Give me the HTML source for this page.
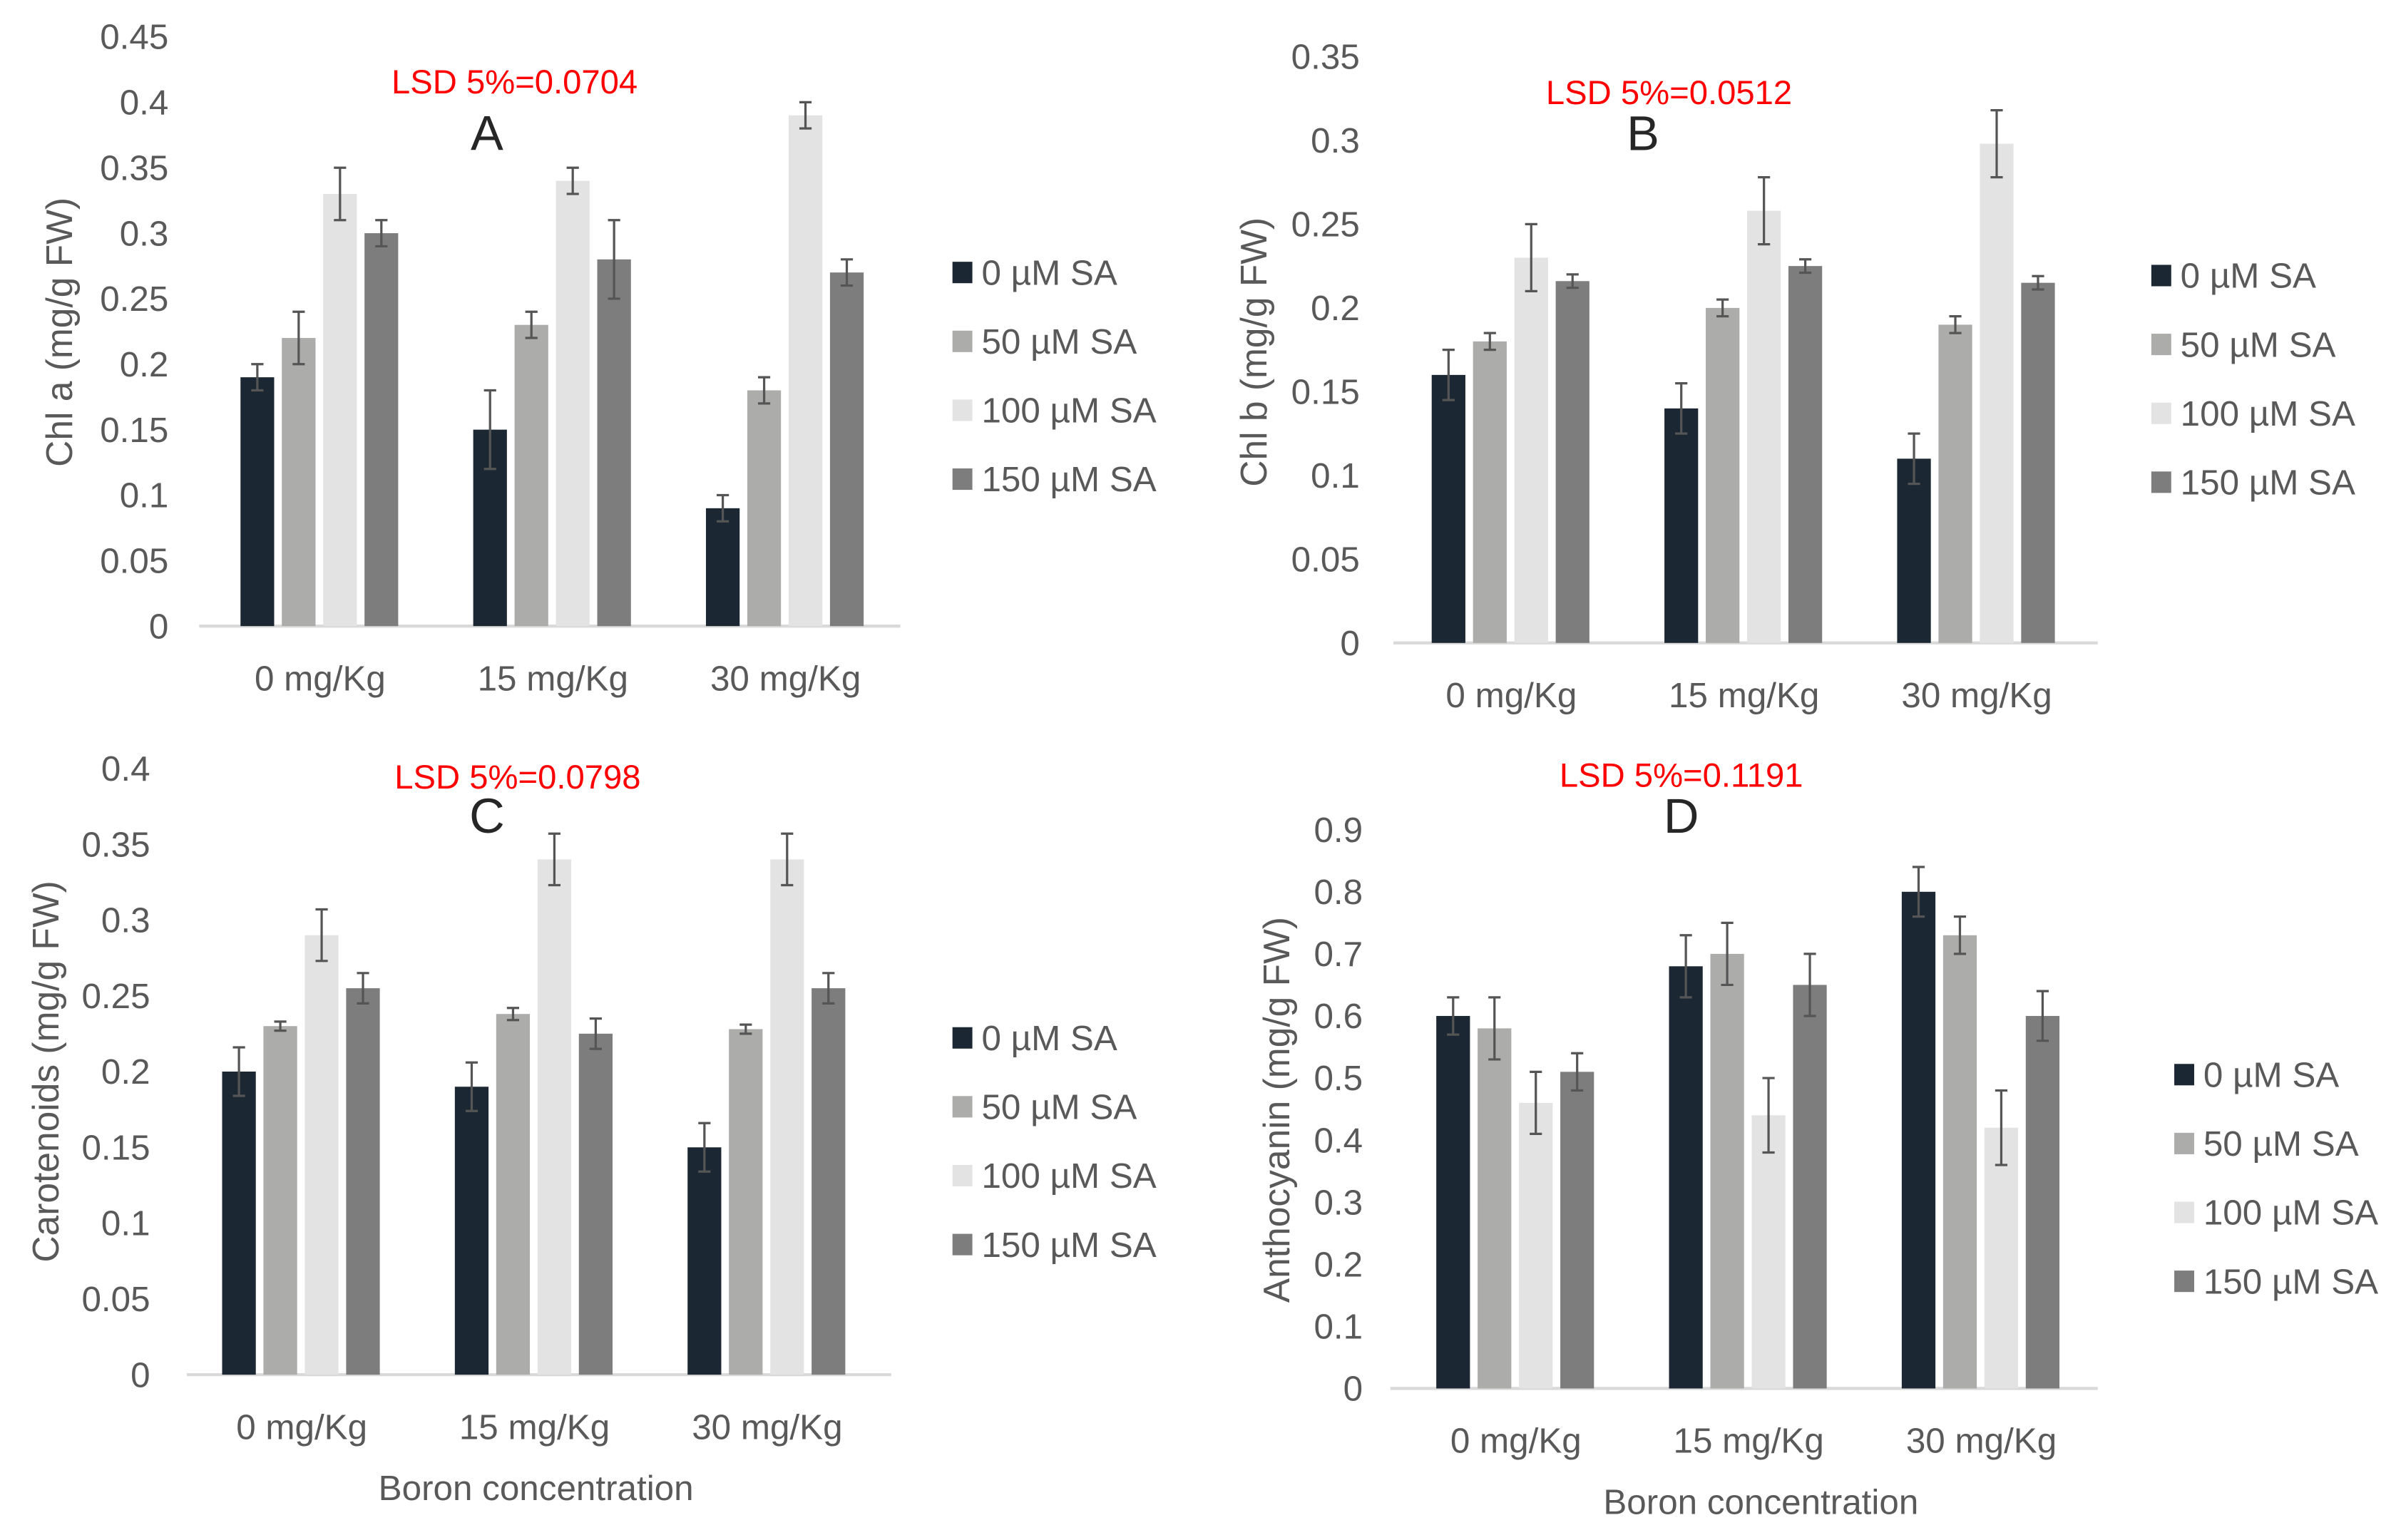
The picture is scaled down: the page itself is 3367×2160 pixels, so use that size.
<!DOCTYPE html>
<html><head><meta charset="utf-8"><style>
html,body{margin:0;padding:0;background:#fff}
svg{display:block}
text{font-family:"Liberation Sans",sans-serif}
</style></head><body>
<svg id="fig" width="3367" height="2160" viewBox="0 0 1568 1006" xmlns="http://www.w3.org/2000/svg"></svg>
<script>
const categories = ["0 mg/Kg","15 mg/Kg","30 mg/Kg"];
const seriesNames = ["0 µM SA","50 µM SA","100 µM SA","150 µM SA"];
const colors = ["#1b2733","#acacab","#e3e3e3","#7d7d7d"];

const aVals = [[0.19,0.15,0.09],[0.22,0.23,0.18],[0.33,0.34,0.39],[0.30,0.28,0.27]];
const aErr  = [[0.01,0.03,0.01],[0.02,0.01,0.01],[0.02,0.01,0.01],[0.01,0.03,0.01]];
const aTicks = ["0","0.05","0.1","0.15","0.2","0.25","0.3","0.35","0.4","0.45"];

const bVals = [[0.16,0.14,0.11],[0.18,0.20,0.19],[0.23,0.258,0.298],[0.216,0.225,0.215]];
const bErr  = [[0.015,0.015,0.015],[0.005,0.005,0.005],[0.02,0.02,0.02],[0.004,0.004,0.004]];
const bTicks = ["0","0.05","0.1","0.15","0.2","0.25","0.3","0.35"];

const cVals = [[0.20,0.19,0.15],[0.23,0.238,0.228],[0.29,0.34,0.34],[0.255,0.225,0.255]];
const cErr  = [[0.016,0.016,0.016],[0.003,0.004,0.003],[0.017,0.017,0.017],[0.01,0.01,0.01]];
const cTicks = ["0","0.05","0.1","0.15","0.2","0.25","0.3","0.35","0.4"];

const dVals = [[0.60,0.68,0.80],[0.58,0.70,0.73],[0.46,0.44,0.42],[0.51,0.65,0.60]];
const dErr  = [[0.03,0.05,0.04],[0.05,0.05,0.03],[0.05,0.06,0.06],[0.03,0.05,0.04]];
const dTicks = ["0","0.1","0.2","0.3","0.4","0.5","0.6","0.7","0.8","0.9"];

const NS="http://www.w3.org/2000/svg";
const svg=document.getElementById('fig');
function mk(tag,attrs,parent){const e=document.createElementNS(NS,tag);for(const k in attrs)e.setAttribute(k,attrs[k]);(parent||svg).appendChild(e);return e;}

function panel(cfg){
  const g=mk('g',{});
  
  
  const maxV=cfg.tickStep*(cfg.ticks.length-1);
  const y=v=>cfg.y0-(v/maxV)*(cfg.y0-cfg.yTop);
  cfg.ticks.forEach((t,i)=>{
    const tx=mk('text',{x:cfg.tickX,y:y(i*cfg.tickStep)+8,'text-anchor':'end','font-size':23,fill:'#595959'},g);
    tx.textContent=t;
    
    
  });
  const ax=mk('line',{x1:cfg.axX1,x2:cfg.axX2,y1:cfg.y0,y2:cfg.y0,stroke:'#d9d9d9','stroke-width':2},g);
  
  
  const xc=i=>cfg.gx0+i*152;
  categories.forEach((c,ci)=>{
    const tx=mk('text',{x:xc(ci),y:cfg.y0+42,'text-anchor':'middle','font-size':23,fill:'#595959'},g);
    tx.textContent=c;
    
    
    cfg.vals.forEach((sv,si)=>{
      const v=sv[ci],e=cfg.err[si][ci];
      const bx=xc(ci)-52+si*27;
      const r=mk('rect',{x:bx,y:y(v),width:22,height:cfg.y0-y(v),fill:colors[si]},g);
      
      
      const cx=bx+11;
      const el=mk('path',{d:`M${cx},${y(v+e)}V${y(v-e)}M${cx-4},${y(v+e)}H${cx+4}M${cx-4},${y(v-e)}H${cx+4}`,stroke:'#555',fill:'none','stroke-width':1.5},g);
      
      
    });
  });
  const yt=mk('text',{x:0,y:0,'text-anchor':'middle','font-size':24,fill:'#595959',transform:`translate(${cfg.ytX},${cfg.ytY}) rotate(-90)`},g);
  yt.textContent=cfg.yTitle;
  
  
  const lsd=mk('text',{x:cfg.lsdX,y:cfg.lsdY,'text-anchor':'middle','font-size':22,fill:'#ff0000'},g);
  lsd.textContent=cfg.lsd;
  
  
  const let_=mk('text',{x:cfg.letX,y:cfg.letY,'text-anchor':'middle','font-size':32,fill:'#262626'},g);
  let_.textContent=cfg.id;
  
  
  seriesNames.forEach((s,si)=>{
    const ly=cfg.legY+si*cfg.legStep;
    const sq=mk('rect',{x:cfg.legX,y:ly-7,width:13,height:14,fill:colors[si]},g);
    
    
    const lt=mk('text',{x:cfg.legX+19,y:ly+8,'font-size':23,fill:'#595959'},g);
    lt.textContent=s;
    
    
  });
  if(cfg.xTitle){
    const xt=mk('text',{x:cfg.xtX,y:cfg.xtY,'text-anchor':'middle','font-size':23,fill:'#595959'},g);
    xt.textContent='Boron concentration';
    
    
  }
}
panel({id:'A',vals:aVals,err:aErr,ticks:aTicks,tickStep:0.05,y0:409,yTop:24,tickX:110,axX1:130,axX2:588,gx0:209,
  yTitle:'Chl a (mg/g FW)',ytX:47,ytY:217,lsd:'LSD 5%=0.0704',lsdX:336,lsdY:61,letX:318,letY:98,legX:622,legY:178,legStep:45});
panel({id:'B',vals:bVals,err:bErr,ticks:bTicks,tickStep:0.05,y0:420,yTop:37,tickX:888,axX1:910,axX2:1370,gx0:987,
  yTitle:'Chl b (mg/g FW)',ytX:827,ytY:230,lsd:'LSD 5%=0.0512',lsdX:1090,lsdY:68,letX:1073,letY:98,legX:1405,legY:180,legStep:45});
panel({id:'C',vals:cVals,err:cErr,ticks:cTicks,tickStep:0.05,y0:898,yTop:502,tickX:98,axX1:122,axX2:582,gx0:197,
  yTitle:'Carotenoids (mg/g FW)',ytX:38,ytY:700,lsd:'LSD 5%=0.0798',lsdX:338,lsdY:515,letX:318,letY:544,legX:622,legY:678,legStep:45,
  xTitle:true,xtX:350,xtY:980});
panel({id:'D',vals:dVals,err:dErr,ticks:dTicks,tickStep:0.1,y0:907,yTop:542,tickX:890,axX1:908,axX2:1370,gx0:990,
  yTitle:'Anthocyanin (mg/g FW)',ytX:842,ytY:725,lsd:'LSD 5%=0.1191',lsdX:1098,lsdY:514,letX:1098,letY:544,legX:1420,legY:702,legStep:45,
  xTitle:true,xtX:1150,xtY:989});
</script>
</body></html>
